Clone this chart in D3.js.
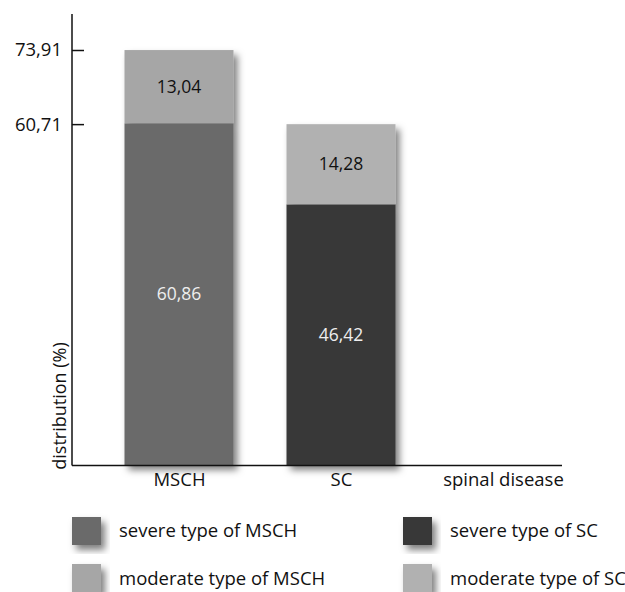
<!DOCTYPE html>
<html><head><meta charset="utf-8">
<script src="https://cdn.jsdelivr.net/npm/d3@7"></script>
<style>body{margin:0;background:#fff}svg{display:block}text{font-family:"Open Sans","Noto Sans",sans-serif;}</style>
</head><body>
<svg id="c" width="625" height="592"></svg>
<script>
const categories = ["MSCH", "SC"];
const severe = [60.86, 46.42];
const moderate = [13.04, 14.28];
const tickValues = [60.71, 73.91];
const tickLabels = ["60,71", "73,91"];
const severeColors = ["#6b6b6b", "#393939"];
const moderateColors = ["#a6a6a6", "#b1b1b1"];
const legendLabels = ["severe type of MSCH", "moderate type of MSCH", "severe type of SC", "moderate type of SC"];
const fmt = v => v.toFixed(2).replace(".", ",");

const svg = d3.select("#c");
const defs = svg.append("defs");
const f = defs.append("filter").attr("id","sh").attr("x","-20%").attr("y","-20%").attr("width","150%").attr("height","150%");
f.append("feDropShadow").attr("dx",4).attr("dy",5).attr("stdDeviation",3.5).attr("flood-color","#000").attr("flood-opacity",0.5);

const x = d3.scalePoint().domain([...categories, "spinal disease"]).range([179, 341+ (341-179)]);
const bw = 109;
const y = d3.scaleLinear().domain([0, 73.91]).range([465, 50]);

// bars
const g = svg.append("g");
categories.forEach((c, i) => {
  const bg = g.append("g").attr("filter","url(#sh)");
  bg.append("rect").attr("x", x(c)-bw/2).attr("width", bw)
    .attr("y", y(severe[i])).attr("height", y(0)-y(severe[i])).attr("fill", severeColors[i]);
  bg.append("rect").attr("x", x(c)-bw/2).attr("width", bw)
    .attr("y", y(severe[i]+moderate[i])).attr("height", y(severe[i])-y(severe[i]+moderate[i])).attr("fill", moderateColors[i]);
  g.append("text").attr("x", x(c)).attr("y", (y(severe[i]+moderate[i])+y(severe[i]))/2 + 6)
    .attr("text-anchor","middle").attr("font-size",17.5).attr("fill","#111").text(fmt(moderate[i]));
  g.append("text").attr("x", x(c)).attr("y", (y(severe[i])+y(0))/2 + 6)
    .attr("text-anchor","middle").attr("font-size",17.5).attr("fill","#eee").text(fmt(severe[i]));
});

// axes
svg.append("line").attr("x1",72).attr("x2",72).attr("y1",14).attr("y2",465.5).attr("stroke","#111").attr("stroke-width",1.5);
svg.append("line").attr("x1",72).attr("x2",562).attr("y1",465.5).attr("y2",465.5).attr("stroke","#111").attr("stroke-width",1.5);
const yAxis = d3.axisLeft(y).tickValues(tickValues).tickFormat((d,i)=>tickLabels[i]).tickSize(0);
const ya = svg.append("g").attr("transform","translate(72,0)").call(yAxis);
ya.select(".domain").remove();
ya.selectAll(".tick line").remove();
ya.selectAll(".tick").append("line").attr("x1",0).attr("x2",12).attr("stroke","#111").attr("stroke-width",1.5);
ya.selectAll(".tick text").attr("x",-10).attr("font-size",18.5).attr("fill","#111").attr("font-family","'Open Sans','Noto Sans',sans-serif");

const xAxis = d3.axisBottom(x).tickSize(0);
const xa = svg.append("g").attr("transform","translate(0,465)").call(xAxis);
xa.select(".domain").remove();
xa.selectAll(".tick text").attr("y",8).attr("font-size",18.5).attr("fill","#111").attr("font-family","'Open Sans','Noto Sans',sans-serif");

svg.append("text").attr("transform","translate(66,406) rotate(-90)").attr("text-anchor","middle")
  .attr("font-size",18).attr("fill","#111").text("distribution (%)");

// legend
const legX = [72, 403], legY = [517, 564], legTY = [537, 585];
legendLabels.forEach((l, i) => {
  const col = Math.floor(i/2), row = i%2;
  const color = row===0 ? severeColors[col] : moderateColors[col];
  svg.append("rect").attr("x",legX[col]).attr("y",legY[row]).attr("width",29).attr("height",28)
    .attr("fill",color).attr("filter","url(#sh)");
  svg.append("text").attr("x",legX[col]+47).attr("y",legTY[row]).attr("font-size",18.5).attr("fill","#111").text(l);
});
</script>
</body></html>
